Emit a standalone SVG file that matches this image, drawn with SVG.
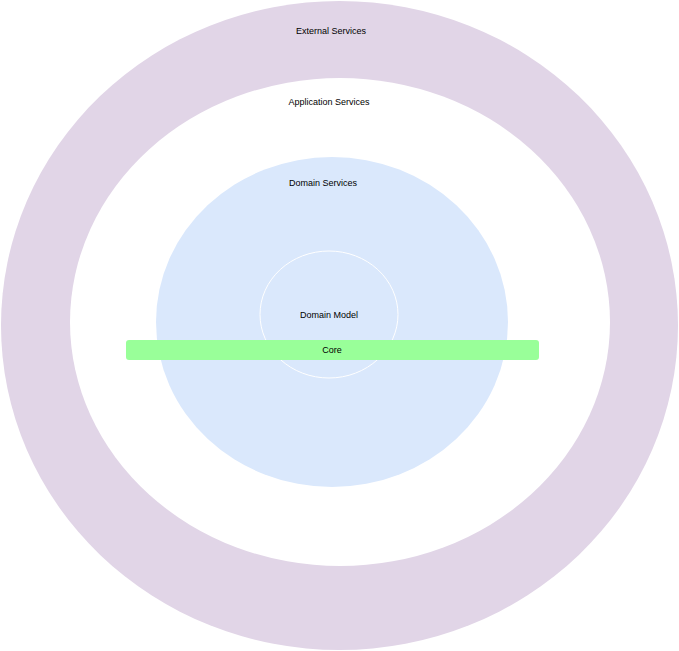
<svg xmlns="http://www.w3.org/2000/svg" width="679" height="651" viewBox="0 0 679 651">
<style>
text{font-family:"Liberation Sans",Arial,sans-serif;font-size:9px;fill:#000;text-anchor:middle;dominant-baseline:central}
</style>
<rect width="679" height="651" fill="#fff"/>
<g id="external-services">
<ellipse cx="339.5" cy="325.5" rx="338.5" ry="324.5" fill="#e1d5e7"/>
<text x="331" y="31">External Services</text>
</g>
<g id="application-services">
<ellipse cx="340" cy="322" rx="270" ry="244" fill="#ffffff"/>
<text x="329" y="102">Application Services</text>
</g>
<g id="domain-services">
<ellipse cx="332" cy="322" rx="176" ry="165" fill="#dae8fc"/>
<text x="323" y="183">Domain Services</text>
</g>
<g id="domain-model">
<ellipse cx="329" cy="314.5" rx="69" ry="63.5" fill="none" stroke="#ffffff" stroke-width="1"/>
<text x="329" y="315">Domain Model</text>
</g>
<g id="core">
<rect x="126" y="340" width="413" height="20" rx="3" fill="#99ff99"/>
<text x="332" y="350">Core</text>
</g>
<g id="connectors"/>
</svg>
